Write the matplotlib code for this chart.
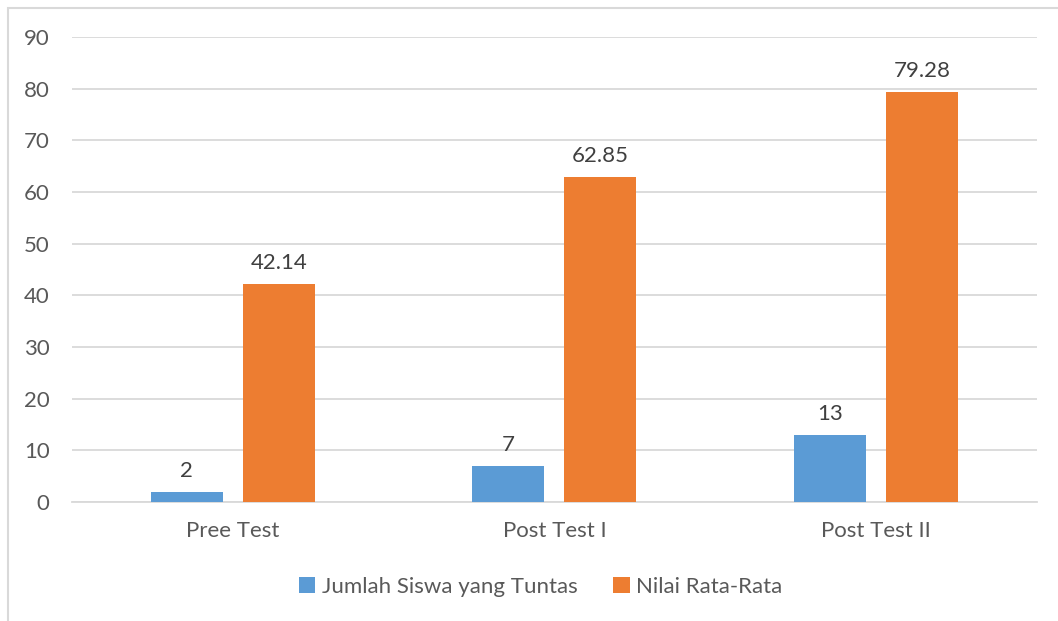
import numpy as np
import matplotlib
matplotlib.use('Agg')
from matplotlib import pyplot as plt
from matplotlib.patches import Rectangle

categories = ['Pree Test', 'Post Test I', 'Post Test II']
tuntas = [2, 7, 13]
rata = [42.14, 62.85, 79.28]
series_names = ['Jumlah Siswa yang Tuntas', 'Nilai Rata-Rata']
yticks = [0, 10, 20, 30, 40, 50, 60, 70, 80, 90]

BLUE = '#5B9BD5'
ORANGE = '#ED7D31'
GRID = '#D9D9D9'
TICK = '#595959'
LABEL = '#404040'
FS = 16

plt.rcParams['font.family'] = ['Lato', 'DejaVu Sans']

fig = plt.figure(figsize=(10.58, 6.21), dpi=100)
ax = fig.add_axes([0.068, 0.1916, 0.912, 0.7488])

# outer chart border (left and top visible)
fig.patches.append(Rectangle((8 / 1058, -0.1), 1.2, 1 - 8 / 621 + 0.1,
                             transform=fig.transFigure, fill=False,
                             edgecolor=GRID, linewidth=1.5))

x = np.arange(len(categories))
w = 0.224
off = 0.143
b1 = ax.bar(x - off, tuntas, w, color=BLUE, label=series_names[0], zorder=3)
b2 = ax.bar(x + off, rata, w, color=ORANGE, label=series_names[1], zorder=3)

for bars, vals in ((b1, tuntas), (b2, rata)):
    for bar, v in zip(bars, vals):
        ax.annotate('{:g}'.format(v), (bar.get_x() + bar.get_width() / 2, v),
                    xytext=(0, 8), textcoords='offset points',
                    ha='center', va='bottom', fontsize=FS, color=LABEL)

ax.set_xlim(-0.5, 2.5)
ax.set_ylim(0, 90)
ax.set_yticks(yticks)
ax.set_xticks(x)
ax.set_xticklabels(categories)
ax.yaxis.grid(True, color=GRID, linewidth=1.3, zorder=0)
ax.set_axisbelow(True)
for s in ax.spines.values():
    s.set_visible(False)
ax.spines['bottom'].set_visible(True)
ax.spines['bottom'].set_color(GRID)
ax.spines['bottom'].set_linewidth(1.3)
ax.tick_params(axis='both', length=0, labelsize=FS, labelcolor=TICK)
ax.tick_params(axis='y', pad=16)
ax.tick_params(axis='x', pad=14)

fig.legend(loc='center', bbox_to_anchor=(0.511, 0.055), ncol=2, frameon=False,
           fontsize=FS, labelcolor=TICK, handlelength=0.75, handleheight=0.75,
           handletextpad=0.3, columnspacing=1.6)

fig.savefig('out.png', dpi=100)
